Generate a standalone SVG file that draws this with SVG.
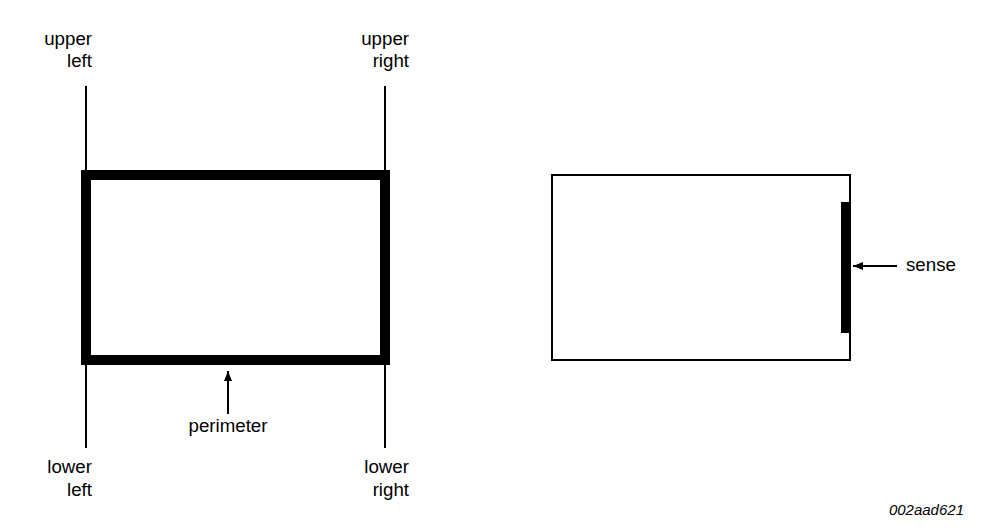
<svg xmlns="http://www.w3.org/2000/svg" width="1008" height="530" viewBox="0 0 1008 530">
<style>
.lbl{font-family:"Liberation Sans",Arial,sans-serif;font-size:18.7px;fill:#000}
.r{text-anchor:end}
.m{text-anchor:middle}
.ln{stroke:#000;stroke-width:2;fill:none}
</style>
<defs>
<marker id="ah" viewBox="0 0 10 8" refX="10" refY="4" markerWidth="10" markerHeight="8" markerUnits="userSpaceOnUse" orient="auto">
<path d="M0,0 L10,4 L0,8 Z" fill="#000"/>
</marker>
</defs>
<rect width="1008" height="530" fill="#fff"/>
<g id="connectors">
<line class="ln" x1="86" y1="86" x2="86" y2="170"/>
<line class="ln" x1="385" y1="86" x2="385" y2="170"/>
<line class="ln" x1="86" y1="365" x2="86" y2="448"/>
<line class="ln" x1="385" y1="365" x2="385" y2="448"/>
<line class="ln" x1="228" y1="414" x2="228" y2="371" stroke-width="1.5" marker-end="url(#ah)"/>
<line class="ln" x1="897" y1="266" x2="853" y2="266" stroke-width="1.5" marker-end="url(#ah)"/>
</g>
<g id="perimeter-box">
<rect x="86" y="175" width="299" height="185" fill="none" stroke="#000" stroke-width="10"/>
</g>
<g id="sense-box">
<rect x="552" y="175" width="298" height="185" fill="none" stroke="#000" stroke-width="2"/>
<rect x="841" y="202" width="10" height="131" fill="#000"/>
</g>
<g id="labels">
<text class="lbl r" x="92" y="45">upper</text>
<text class="lbl r" x="92" y="67">left</text>
<text class="lbl r" x="409" y="45">upper</text>
<text class="lbl r" x="409" y="67">right</text>
<text class="lbl r" x="92" y="473">lower</text>
<text class="lbl r" x="92" y="496">left</text>
<text class="lbl r" x="409" y="473">lower</text>
<text class="lbl r" x="409" y="496">right</text>
<text class="lbl m" x="228" y="432">perimeter</text>
<text class="lbl" x="906" y="271">sense</text>
<text x="964" y="515" text-anchor="end" style="font-family:'Liberation Sans',Arial,sans-serif;font-size:15px;font-style:italic">002aad621</text>
</g>
</svg>
